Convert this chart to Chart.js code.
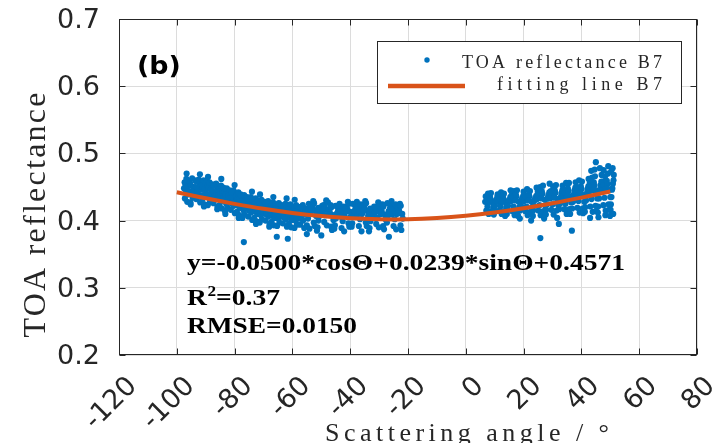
<!DOCTYPE html>
<html><head><meta charset="utf-8">
<script src="https://cdn.jsdelivr.net/npm/chart.js@4/dist/chart.umd.min.js"></script>
<style>html,body{margin:0;padding:0;background:#fff}canvas{display:block}</style>
</head><body>
<canvas id="c" width="718" height="443"></canvas>
<script>
const xTickValues = [-120,-100,-80,-60,-40,-20,0,20,40,60,80];
const yTickValues = [0.2,0.3,0.4,0.5,0.6,0.7];
const seriesLabels = ['TOA reflectance B7','fitting line B7'];
const xTitle = 'Scattering angle / °';
const yTitle = 'TOA reflectance';
const panelLabel = '(b)';
const equationText = 'y=-0.0500*cosΘ+0.0239*sinΘ+0.4571';
const r2Text = ['R','2','=0.37'];
const rmseText = 'RMSE=0.0150';

const fitAngles = [-100,-90,-80,-70,-60,-50,-40,-30,-20,-10,0,10,20,30,40,50];
const fitValues = [0.4423,0.4332,0.4249,0.4175,0.4114,0.4067,0.4034,0.4019,0.4019,0.4037,0.4071,0.4120,0.4183,0.4258,0.4342,0.4433];

const leftCluster = [
[-97.5,0.448],[-97.3,0.457],[-97.2,0.433],[-97.0,0.453],[-96.8,0.442],[-96.7,0.462],[-96.4,0.428],[-96.3,0.451],[-96.1,0.439],[-95.9,0.459],[-95.8,0.444],[-96.6,0.470],
[-93.8,0.449],[-95.4,0.455],[-94.5,0.434],[-95.1,0.452],[-94.0,0.441],[-94.7,0.463],[-95.3,0.427],[-94.2,0.450],[-94.9,0.440],[-93.7,0.460],[-94.4,0.443],[-95.2,0.424],
[-92.7,0.447],[-92.1,0.456],[-93.3,0.432],[-91.7,0.452],[-93.0,0.441],[-92.4,0.461],[-91.9,0.427],[-93.5,0.450],[-92.3,0.438],[-93.2,0.458],[-92.8,0.443],[-92.0,0.469],
[-91.5,0.446],[-91.3,0.453],[-91.2,0.431],[-91.0,0.449],[-90.8,0.438],[-90.7,0.460],[-90.4,0.424],[-90.3,0.447],[-90.1,0.437],[-89.9,0.457],[-89.8,0.440],[-90.6,0.421],
[-87.8,0.443],[-89.4,0.452],[-88.5,0.428],[-89.1,0.448],[-88.0,0.437],[-88.7,0.457],[-89.3,0.423],[-88.2,0.446],[-88.9,0.434],[-87.7,0.454],[-88.4,0.439],[-89.2,0.465],
[-86.7,0.441],[-86.1,0.450],[-87.3,0.426],[-85.7,0.446],[-87.0,0.435],[-86.4,0.455],[-85.9,0.421],[-87.5,0.444],[-86.3,0.432],[-87.2,0.452],[-86.8,0.437],[-86.0,0.417],
[-85.5,0.438],[-85.3,0.447],[-85.2,0.423],[-85.0,0.443],[-84.8,0.432],[-84.7,0.452],[-84.4,0.418],[-84.3,0.441],[-84.1,0.429],[-83.9,0.449],[-83.8,0.434],[-84.6,0.462],
[-81.8,0.434],[-83.4,0.443],[-82.5,0.419],[-83.1,0.439],[-82.0,0.428],[-82.7,0.448],[-83.3,0.414],[-82.2,0.437],[-82.9,0.425],[-81.7,0.445],[-82.4,0.430],[-83.2,0.410],
[-80.7,0.431],[-80.1,0.440],[-81.3,0.416],[-79.7,0.436],[-81.0,0.425],[-80.4,0.445],[-79.9,0.411],[-81.5,0.434],[-80.3,0.422],[-81.2,0.442],[-80.8,0.427],[-80.0,0.453],
[-79.5,0.428],[-79.3,0.437],[-79.2,0.413],[-79.0,0.433],[-78.8,0.422],[-78.7,0.442],[-78.4,0.408],[-78.3,0.431],[-78.1,0.419],[-77.9,0.439],[-77.8,0.424],[-78.6,0.404],
[-75.8,0.424],[-77.4,0.433],[-76.5,0.409],[-77.1,0.429],[-76.0,0.418],[-76.7,0.438],[-77.3,0.404],[-76.2,0.427],[-76.9,0.415],[-75.7,0.435],[-76.4,0.420],[-76.8,0.368],
[-74.7,0.421],[-74.1,0.430],[-75.3,0.406],[-73.7,0.426],[-75.0,0.415],[-74.4,0.435],[-73.9,0.401],[-75.5,0.424],[-74.3,0.412],[-75.2,0.432],[-74.8,0.417],[-74.0,0.443],
[-73.5,0.419],[-73.3,0.428],[-73.2,0.404],[-73.0,0.424],[-72.8,0.413],[-72.7,0.433],[-72.4,0.399],[-72.3,0.422],[-72.1,0.410],[-71.9,0.430],[-71.8,0.415],[-72.6,0.395],
[-69.8,0.417],[-71.4,0.426],[-70.5,0.402],[-71.1,0.422],[-70.0,0.411],[-70.7,0.431],[-71.3,0.397],[-70.2,0.420],[-70.9,0.408],[-69.7,0.428],[-70.4,0.413],[-71.2,0.439],
[-68.7,0.415],[-68.1,0.424],[-69.3,0.400],[-67.7,0.420],[-69.0,0.409],[-68.4,0.429],[-67.9,0.395],[-69.5,0.418],[-68.3,0.406],[-69.2,0.426],[-68.8,0.411],[-68.0,0.391],
[-67.5,0.413],[-67.3,0.422],[-67.2,0.398],[-67.0,0.418],[-66.8,0.407],[-66.7,0.427],[-66.4,0.393],[-66.3,0.416],[-66.1,0.404],[-65.9,0.424],[-65.8,0.409],[-66.6,0.435],
[-63.8,0.412],[-65.5,0.421],[-64.5,0.397],[-65.1,0.417],[-64.0,0.406],[-64.7,0.426],[-65.3,0.392],[-64.2,0.415],[-64.9,0.403],[-63.7,0.423],[-64.4,0.408],[-65.4,0.376],
[-62.7,0.411],[-62.1,0.420],[-63.3,0.396],[-61.7,0.416],[-63.0,0.405],[-62.4,0.425],[-61.9,0.391],[-63.5,0.414],[-62.3,0.402],[-63.2,0.422],[-62.8,0.407],[-62.0,0.433],
[-61.5,0.410],[-61.3,0.419],[-61.2,0.395],[-61.0,0.415],[-60.8,0.404],[-60.7,0.424],[-60.4,0.390],[-60.3,0.413],[-60.1,0.401],[-59.9,0.421],[-59.8,0.406],[-61.6,0.373],
[-57.8,0.409],[-59.4,0.418],[-58.5,0.394],[-59.1,0.414],[-58.0,0.403],[-58.7,0.423],[-59.3,0.389],[-58.2,0.412],[-58.9,0.400],[-57.7,0.420],[-58.4,0.405],[-59.2,0.431],
[-56.7,0.409],[-56.1,0.418],[-57.3,0.394],[-55.7,0.414],[-57.0,0.403],[-56.4,0.423],[-55.9,0.389],[-57.5,0.412],[-56.3,0.400],[-57.2,0.420],[-56.8,0.405],[-55.0,0.380],
[-55.5,0.410],[-55.2,0.418],[-55.0,0.393],[-54.8,0.415],[-54.6,0.403],[-54.3,0.425],[-54.1,0.388],[-53.9,0.411],[-53.7,0.422],
[-52.0,0.414],[-53.4,0.422],[-52.6,0.397],[-53.1,0.419],[-51.8,0.407],[-52.8,0.429],[-52.3,0.392],[-53.3,0.415],[-52.5,0.426],
[-50.7,0.407],[-49.9,0.415],[-51.3,0.390],[-50.2,0.412],[-51.0,0.400],[-49.7,0.422],[-51.5,0.385],[-50.4,0.408],[-51.1,0.419],[-50.0,0.378],
[-49.5,0.415],[-49.2,0.423],[-49.0,0.398],[-48.8,0.420],[-48.6,0.408],[-48.3,0.430],[-48.1,0.393],[-47.9,0.416],[-47.7,0.427],
[-46.0,0.408],[-47.4,0.416],[-46.6,0.391],[-47.1,0.413],[-45.8,0.401],[-46.8,0.423],[-46.3,0.386],[-47.3,0.409],[-46.5,0.420],
[-44.7,0.410],[-43.9,0.418],[-45.3,0.393],[-44.2,0.415],[-45.0,0.403],[-43.7,0.425],[-45.5,0.388],[-44.4,0.411],[-45.1,0.422],
[-43.5,0.406],[-43.2,0.414],[-43.0,0.389],[-42.8,0.411],[-42.6,0.399],[-42.3,0.421],[-42.1,0.384],[-41.9,0.407],[-41.7,0.418],
[-40.0,0.413],[-41.4,0.421],[-40.6,0.396],[-41.1,0.418],[-39.8,0.406],[-40.8,0.428],[-40.3,0.391],[-41.3,0.414],[-40.5,0.425],
[-38.7,0.413],[-37.9,0.421],[-39.3,0.396],[-38.2,0.418],[-39.0,0.406],[-37.7,0.428],[-39.5,0.391],[-38.4,0.414],[-39.1,0.425],
[-37.5,0.409],[-37.2,0.417],[-37.0,0.392],[-36.8,0.414],[-36.6,0.402],[-36.3,0.424],[-36.1,0.384],[-35.9,0.410],[-35.7,0.421],
[-34.0,0.414],[-35.4,0.422],[-34.6,0.397],[-35.1,0.419],[-33.8,0.407],[-34.8,0.429],[-34.3,0.392],[-35.3,0.415],[-34.5,0.426],
[-32.7,0.404],[-31.9,0.414],[-33.3,0.389],[-32.2,0.411],[-33.0,0.399],[-31.7,0.421],[-33.5,0.384],[-32.4,0.407],[-33.1,0.418],
[-31.5,0.412],[-31.2,0.420],[-31.0,0.395],[-30.8,0.417],[-30.6,0.405],[-30.3,0.427],[-30.1,0.390],[-29.9,0.413],[-29.7,0.424],
[-28.0,0.409],[-29.4,0.417],[-28.6,0.392],[-29.1,0.414],[-27.8,0.402],[-28.8,0.424],[-28.3,0.387],[-29.3,0.410],[-28.5,0.421],
[-26.7,0.414],[-25.9,0.422],[-27.3,0.397],[-26.2,0.419],[-27.0,0.407],[-25.7,0.429],[-26.6,0.376],[-26.4,0.415],[-27.1,0.426],
[-25.5,0.409],[-25.2,0.417],[-25.0,0.392],[-24.8,0.414],[-24.6,0.402],[-24.3,0.424],[-24.1,0.387],[-23.9,0.410],[-23.7,0.421],
[-22.0,0.410],[-23.4,0.418],[-22.6,0.393],[-23.1,0.415],[-21.8,0.403],[-22.8,0.425],[-22.3,0.386],[-23.3,0.411],[-22.5,0.422]
];

const rightCluster = [
[6.7,0.428],[6.9,0.436],[7.1,0.415],[7.3,0.432],[7.5,0.421],[7.7,0.440],[7.9,0.410],[8.0,0.429],
[9.3,0.427],[8.3,0.437],[8.9,0.414],[8.5,0.433],[9.5,0.420],[8.7,0.441],[9.1,0.411],[8.2,0.428],
[10.3,0.429],[10.9,0.435],[9.8,0.416],[10.6,0.431],[10.1,0.422],[11.0,0.439],[9.7,0.409],[10.5,0.430],
[11.2,0.428],[11.4,0.436],[11.6,0.415],[11.8,0.432],[12.0,0.421],[12.2,0.442],[12.4,0.410],[12.5,0.429],
[13.8,0.427],[12.8,0.437],[13.4,0.414],[13.0,0.433],[14.0,0.420],[13.2,0.440],[13.6,0.407],[12.7,0.428],
[14.8,0.429],[15.4,0.435],[14.3,0.416],[15.1,0.431],[14.6,0.422],[15.5,0.445],[14.2,0.410],[15.0,0.430],
[15.7,0.429],[15.9,0.438],[16.1,0.414],[16.3,0.435],[16.5,0.421],[16.7,0.444],[16.9,0.408],[17.0,0.431],
[18.3,0.428],[17.3,0.439],[17.9,0.413],[17.5,0.436],[18.5,0.420],[17.7,0.445],[18.1,0.407],[17.2,0.430],
[19.3,0.430],[19.9,0.437],[18.8,0.415],[19.6,0.434],[19.1,0.422],[20.0,0.443],[18.7,0.403],[19.5,0.432],
[20.2,0.429],[20.4,0.438],[20.6,0.414],[20.8,0.435],[21.0,0.421],[21.2,0.447],[21.4,0.408],[21.5,0.431],
[22.8,0.428],[21.8,0.439],[22.4,0.413],[22.0,0.436],[23.0,0.420],[22.2,0.444],[22.6,0.400],[21.7,0.430],
[23.8,0.430],[24.4,0.437],[23.3,0.415],[24.1,0.434],[23.6,0.422],[24.5,0.449],[23.2,0.407],[24.0,0.432],
[24.7,0.432],[24.9,0.443],[25.1,0.415],[25.3,0.439],[25.5,0.423],[25.7,0.450],[25.9,0.408],[26.0,0.434],[25.8,0.374],
[27.3,0.431],[26.3,0.444],[26.9,0.414],[26.5,0.440],[27.5,0.422],[26.7,0.452],[27.1,0.403],[26.2,0.433],
[28.3,0.433],[28.9,0.442],[27.8,0.416],[28.6,0.438],[28.1,0.424],[29.0,0.455],[27.7,0.409],[28.5,0.435],
[29.2,0.433],[29.4,0.444],[29.6,0.416],[29.8,0.440],[30.0,0.424],[30.2,0.451],[30.4,0.409],[30.5,0.435],
[31.8,0.432],[30.8,0.445],[31.4,0.415],[31.0,0.441],[32.0,0.423],[31.2,0.453],[31.6,0.404],[30.7,0.434],
[32.8,0.434],[33.4,0.445],[32.3,0.417],[33.1,0.441],[32.6,0.425],[33.5,0.452],[32.2,0.395],[33.0,0.436],
[33.7,0.434],[33.9,0.446],[34.1,0.417],[34.3,0.441],[34.5,0.425],[34.7,0.456],[34.9,0.410],[35.0,0.436],
[36.3,0.436],[35.3,0.448],[35.9,0.417],[35.5,0.444],[36.5,0.427],[35.7,0.456],[36.1,0.410],[35.2,0.439],
[37.3,0.437],[37.9,0.449],[36.8,0.418],[37.6,0.445],[37.1,0.428],[38.0,0.457],[36.7,0.385],[37.5,0.440],
[38.2,0.438],[38.4,0.450],[38.6,0.419],[38.8,0.446],[39.0,0.429],[39.2,0.460],[39.4,0.412],[39.5,0.441],
[40.8,0.438],[39.8,0.451],[40.4,0.418],[40.0,0.447],[41.0,0.428],[40.2,0.458],[40.6,0.411],[39.7,0.442],
[41.8,0.439],[42.4,0.451],[41.3,0.420],[42.1,0.447],[41.6,0.430],[42.5,0.462],[41.2,0.413],[42.0,0.442],
[42.7,0.443],[42.9,0.456],[43.1,0.421],[43.3,0.451],[43.5,0.432],[43.7,0.464],[43.9,0.413],[44.0,0.445],[43.4,0.474],[43.0,0.404],
[45.3,0.444],[44.3,0.457],[44.9,0.422],[44.5,0.452],[45.5,0.433],[44.7,0.466],[45.1,0.414],[44.2,0.446],[45.0,0.487],[44.6,0.476],
[46.3,0.444],[46.9,0.458],[45.8,0.421],[46.6,0.453],[46.1,0.433],[47.0,0.468],[45.7,0.412],[46.5,0.447],[46.4,0.478],[45.9,0.405],
[47.2,0.445],[47.4,0.458],[47.6,0.423],[47.8,0.453],[48.0,0.434],[48.2,0.466],[48.4,0.415],[48.5,0.447],[47.7,0.475],[48.3,0.408],
[49.8,0.446],[48.8,0.459],[49.4,0.424],[49.0,0.454],[50.0,0.435],[49.2,0.470],[49.6,0.416],[48.7,0.448],[49.3,0.481],[49.9,0.407],
[50.6,0.446],[51.1,0.460],[50.2,0.424],[50.9,0.455],[50.4,0.435],[51.2,0.468],[50.1,0.416],[50.7,0.448],[50.8,0.478],[50.3,0.473],[51.0,0.410]
];

const BLUE = '#0072BD';
const ORANGE = '#D95319';
const INK = '#262626';

function spaced(ctx, text, x, y, width, align) {
  ctx.letterSpacing = '0px';
  const w0 = ctx.measureText(text).width;
  const n = Array.from(text).length;
  let w = w0;
  if ('letterSpacing' in ctx && n > 1) {
    ctx.letterSpacing = ((width - w0) / (n - 1)) + 'px';
    w = width;
  }
  const left = align === 'right' ? x - w : (align === 'center' ? x - w / 2 : x);
  ctx.textAlign = 'left';
  ctx.fillText(text, left, y);
  ctx.letterSpacing = '0px';
}

const decorations = {
  id: 'decorations',
  afterDraw(chart) {
    const ctx = chart.ctx, a = chart.chartArea, xs = chart.scales.x, ys = chart.scales.y;
    ctx.save();
    ctx.strokeStyle = INK; ctx.lineWidth = 1;
    const L = Math.round(a.left) + 0.5, R = Math.round(a.right) - 0.5, T = Math.round(a.top) + 0.5, B = Math.round(a.bottom) - 0.5;
    ctx.strokeRect(L, T, R - L, B - T);
    ctx.beginPath();
    xs.ticks.forEach(t => {
      const px = Math.round(xs.getPixelForValue(t.value)) + 0.5;
      ctx.moveTo(px, B); ctx.lineTo(px, B - 6);
      ctx.moveTo(px, T); ctx.lineTo(px, T + 6);
    });
    ys.ticks.forEach(t => {
      const py = Math.round(ys.getPixelForValue(t.value)) + 0.5;
      ctx.moveTo(L, py); ctx.lineTo(L + 6, py);
      ctx.moveTo(R, py); ctx.lineTo(R - 6, py);
    });
    ctx.stroke();

    ctx.fillStyle = INK;
    ctx.textBaseline = 'alphabetic';
    ctx.font = '26px "Liberation Serif"';
    spaced(ctx, xTitle, 467, 441, 284, 'center');
    ctx.save();
    ctx.translate(45, 215); ctx.rotate(-Math.PI / 2);
    ctx.font = '32px "Liberation Serif"';
    spaced(ctx, yTitle, 0, 0, 245, 'center');
    ctx.restore();

    ctx.save();
    ctx.fillStyle = '#000';
    ctx.font = 'bold 24px "DejaVu Sans"';
    ctx.translate(137, 74); ctx.scale(1.12, 1);
    ctx.textAlign = 'left';
    ctx.fillText(panelLabel, 0, 0);
    ctx.restore();

    ctx.save();
    ctx.fillStyle = '#000';
    ctx.textAlign = 'left';
    ctx.font = 'bold 24px "Liberation Serif"';
    const s = 438 / ctx.measureText(equationText).width;
    ctx.save(); ctx.translate(187, 270); ctx.scale(s, 1); ctx.fillText(equationText, 0, 0); ctx.restore();
    ctx.save(); ctx.translate(187, 305); ctx.scale(s, 1);
    ctx.fillText(r2Text[0], 0, 0);
    let off = ctx.measureText(r2Text[0]).width;
    ctx.font = 'bold 15px "Liberation Serif"';
    ctx.fillText(r2Text[1], off + 0.5, -9);
    off += ctx.measureText(r2Text[1]).width + 0.5;
    ctx.font = 'bold 24px "Liberation Serif"';
    ctx.fillText(r2Text[2], off, 0);
    ctx.restore();
    const s2 = 170 / ctx.measureText(rmseText).width;
    ctx.save(); ctx.translate(187, 333); ctx.scale(s2, 1); ctx.fillText(rmseText, 0, 0); ctx.restore();
    ctx.restore();

    const dsPts = chart.data.datasets[1], dsFit = chart.data.datasets[0];
    ctx.fillStyle = '#fff';
    ctx.fillRect(377.5, 41.5, 304, 62);
    ctx.strokeStyle = INK; ctx.lineWidth = 1;
    ctx.strokeRect(377.5, 41.5, 304, 62);
    ctx.fillStyle = dsPts.backgroundColor;
    ctx.beginPath(); ctx.arc(427, 60, 2.7, 0, Math.PI * 2); ctx.fill();
    ctx.strokeStyle = dsFit.borderColor; ctx.lineWidth = 4.5; ctx.lineCap = 'butt';
    ctx.beginPath(); ctx.moveTo(388, 86); ctx.lineTo(465, 86); ctx.stroke();
    ctx.fillStyle = INK;
    ctx.font = '18px "Liberation Serif"';
    spaced(ctx, dsPts.label, 662, 68, 200, 'right');
    spaced(ctx, dsFit.label, 662, 90, 165, 'right');
    ctx.restore();
  }
};

function noPad(s) { s.paddingLeft = 0; s.paddingRight = 0; s.paddingTop = 0; s.paddingBottom = 0; }

new Chart(document.getElementById('c'), {
  type: 'scatter',
  data: {
    datasets: [
      {
        label: seriesLabels[1],
        data: fitAngles.map((a, i) => ({x: a, y: fitValues[i]})),
        showLine: true, borderColor: ORANGE, backgroundColor: ORANGE,
        borderWidth: 4, pointRadius: 0, tension: 0.4, borderCapStyle: 'butt', order: 0
      },
      {
        label: seriesLabels[0],
        data: leftCluster.concat(rightCluster).map(p => ({x: p[0], y: p[1]})),
        backgroundColor: BLUE, borderWidth: 0, pointRadius: 3.1, pointHoverRadius: 3.1, order: 1
      }
    ]
  },
  options: {
    responsive: false, animation: false, devicePixelRatio: 1,
    layout: {padding: {top: 19, right: 21, left: 0, bottom: 0}},
    plugins: {legend: {display: false}, tooltip: {enabled: false}},
    scales: {
      x: {
        type: 'linear', min: -120, max: 80,
        afterBuildTicks: s => { s.ticks = xTickValues.map(v => ({value: v})); },
        afterFit: s => { s.height = 88; noPad(s); },
        grid: {color: '#dcdcdc', drawTicks: false},
        border: {display: false},
        ticks: {autoSkip: false, minRotation: 45, maxRotation: 45, padding: 19, labelOffset: 14, color: INK,
          font: {family: "'DejaVu Sans'", size: 27, lineHeight: 0.85}, callback: v => String(v)}
      },
      y: {
        type: 'linear', min: 0.2, max: 0.7,
        afterBuildTicks: s => { s.ticks = yTickValues.map(v => ({value: v})); },
        afterFit: s => { s.width = 119; noPad(s); },
        grid: {color: '#dcdcdc', drawTicks: false},
        border: {display: false},
        ticks: {padding: 19, labelOffset: 2, color: INK, font: {family: "'DejaVu Sans'", size: 27}, callback: v => Number(v).toFixed(1)}
      }
    }
  },
  plugins: [decorations]
});
</script>
</body></html>
